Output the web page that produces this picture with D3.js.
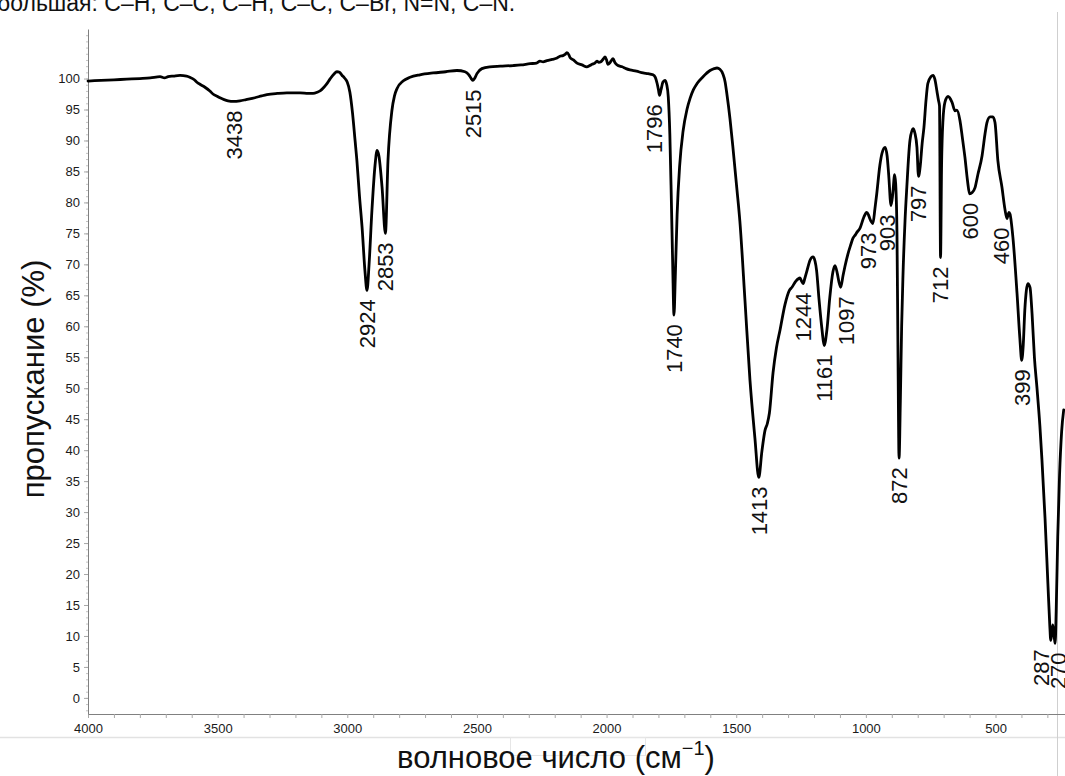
<!DOCTYPE html>
<html>
<head>
<meta charset="utf-8">
<script src="https://cdn.jsdelivr.net/npm/d3@7"></script>
<style>
  body { margin: 0; background: #fff; }
  svg { display: block; font-family: "Liberation Sans", Arial, sans-serif; }
</style>
</head>
<body>
<div id="chart"></div>
<script>
var wavenumber = [4000, 3950, 3900, 3850, 3800, 3760, 3722, 3705, 3691, 3670, 3645, 3620, 3607, 3590, 3580, 3565, 3549, 3530, 3518, 3500,
  3491, 3475, 3460, 3438, 3414, 3390, 3356, 3330, 3310, 3270, 3233, 3182, 3150, 3132, 3115, 3105, 3090, 3080, 3067, 3052,
  3040, 3030, 3020, 3013, 3005, 3000, 2990, 2980, 2970, 2963, 2953, 2943, 2932, 2924, 2916, 2905, 2893, 2885, 2878, 2866,
  2853, 2843, 2828, 2818, 2808, 2785, 2758, 2720, 2669, 2620, 2577, 2546, 2531, 2522, 2515, 2508, 2500, 2481, 2450, 2410,
  2361, 2330, 2295, 2270, 2257, 2245, 2230, 2210, 2191, 2180, 2168, 2160, 2153, 2145, 2141, 2128, 2114, 2095, 2076, 2065,
  2056, 2045, 2037, 2030, 2022, 2012, 2006, 2000, 1995, 1988, 1983, 1975, 1968, 1956, 1940, 1925, 1910, 1885, 1859, 1840,
  1821, 1812, 1805, 1800, 1796, 1790, 1783, 1775, 1768, 1762, 1756, 1750, 1745, 1740, 1735, 1728, 1718, 1705, 1690, 1678,
  1665, 1651, 1628, 1601, 1585, 1574, 1563, 1551, 1543, 1536, 1524, 1513, 1497, 1486, 1466, 1447, 1428, 1413, 1401, 1389,
  1380, 1372, 1358, 1345, 1331, 1312, 1295, 1285, 1270, 1254, 1248, 1242, 1235, 1227, 1215, 1204, 1196, 1190, 1181, 1169,
  1161, 1150, 1139, 1127, 1119, 1110, 1104, 1097, 1088, 1081, 1069, 1058, 1050, 1040, 1034, 1023, 1008, 997, 990, 985,
  973, 965, 958, 946, 938, 926, 918, 912, 903, 896, 889, 885, 880, 876, 872, 867, 862, 857, 849, 842,
  830, 818, 811, 803, 797, 790, 783, 776, 768, 761, 749, 741, 734, 726, 720, 716, 712, 708, 703, 695,
  683, 668, 656, 649, 637, 628, 618, 608, 600, 590, 579, 568, 552, 540, 533, 521, 510, 502, 491, 475,
  464, 456, 448, 444, 433, 417, 406, 399, 393, 387, 381, 375, 367, 359, 350, 340, 329, 321, 309, 298,
  291, 287, 283, 279, 274, 270, 266, 260, 253, 245, 237];

var transmittance = [99.6, 99.7, 99.8, 99.9, 100.0, 100.1, 100.3, 100.1, 100.3, 100.4, 100.5, 100.4, 100.2, 99.8, 99.4, 99.0, 98.6, 98.0, 97.5, 97.1,
  96.9, 96.6, 96.4, 96.3, 96.4, 96.6, 96.9, 97.2, 97.4, 97.6, 97.7, 97.7, 97.6, 97.6, 97.8, 98.0, 98.6, 99.1, 99.9, 100.7,
  101.1, 101.0, 100.5, 100.2, 99.8, 99.4, 97.8, 94.5, 90, 86.8, 81, 76, 69, 65.8, 70, 78.7, 86, 88.4, 87.5, 82.5,
  75, 86.8, 94.8, 97.2, 98.4, 99.6, 100.2, 100.6, 100.9, 101.1, 101.3, 101.1, 100.6, 100.0, 99.7, 100.1, 100.8, 101.6, 101.9, 102.0,
  102.1, 102.2, 102.4, 102.5, 102.8, 102.7, 102.9, 103.1, 103.3, 103.6, 103.7, 103.9, 104.2, 103.8, 103.4, 103.0, 102.5, 102.2, 101.9, 102.1,
  102.3, 102.5, 102.8, 102.6, 102.7, 103.2, 103.5, 103.0, 102.3, 102.5, 102.8, 103.2, 102.6, 102.1, 101.9, 101.6, 101.4, 101.2, 100.9, 100.8,
  100.6, 100.2, 99.2, 98.2, 97.3, 98.2, 99.4, 99.7, 99.0, 97, 91, 80, 70, 61.8, 68, 78, 86, 91.5, 95, 96.8,
  98.2, 99.2, 100.3, 101.3, 101.6, 101.7, 101.5, 100.7, 99.5, 97.5, 93.5, 89, 82, 77, 64, 51.3, 42, 35.6, 39.8, 43.2,
  44.3, 46, 52.5, 56.5, 59.4, 63.5, 65.8, 66.3, 67.3, 67.8, 67.3, 66.9, 67.8, 69, 70.7, 71.2, 70.5, 69, 64.5, 59.4,
  56.9, 59.5, 64.7, 68.8, 69.8, 68.5, 67.2, 66.3, 68.2, 69.6, 71.7, 73.2, 74.2, 74.8, 75.2, 75.8, 77.6, 78.4, 78.0, 77.4,
  76.6, 79, 81.4, 86, 87.9, 88.9, 87.5, 84.5, 79.5, 81.5, 84.5, 83, 75, 55, 38.7, 48, 60, 68, 77, 82.5,
  90, 91.9, 91.2, 88.9, 84.2, 86, 89.5, 92.1, 96.5, 99.2, 100.3, 100.5, 99.9, 98, 96.5, 95.6, 71.1, 86, 93, 96.2,
  97.1, 96.2, 94.8, 94.9, 93.2, 90.5, 87.3, 83.5, 81.4, 81.6, 82.4, 84.5, 87.5, 91.2, 92.9, 93.8, 93.8, 92.9, 86.8, 82.4,
  79, 77.4, 78.4, 78.1, 74.4, 65.3, 58, 54.5, 57, 62.6, 65.8, 66.9, 66.3, 62, 55, 50, 44, 38.5, 29, 18.5,
  12, 9.3, 10.5, 11.8, 10, 8.8, 14, 26, 36, 43, 46.5];

var peakWavenumbers = [3438, 2924, 2853, 2515, 1796, 1740, 1413, 1244, 1161, 1097, 973, 903, 872, 797, 712, 600, 460, 399, 287, 270];
var peakValues = [96.3, 65.8, 75, 99.7, 97.3, 61.8, 35.6, 66.9, 56.9, 66.3, 76.6, 79.5, 38.7, 84.2, 71.1, 81.4, 77.4, 54.5, 9.3, 8.8];

var xTickLabels = [4000, 3500, 3000, 2500, 2000, 1500, 1000, 500];
var yTickLabels = [0, 5, 10, 15, 20, 25, 30, 35, 40, 45, 50, 55, 60, 65, 70, 75, 80, 85, 90, 95, 100];

var headerText = "большая: С–Н, С–С, С–Н, С–С, С–Br, N=N, С–N.";
var xTitle = "волновое число (см";
var yTitle = "пропускание (%)";

var w = 1065, h = 776;

// small sideways nudges so neighbouring peak labels do not collide
var labelNudge = { 1796: -5, 1097: 5, 973: -5, 903: -4, 460: -5, 287: -10, 270: 3 };

var x = d3.scaleLinear().domain([4000, 232]).range([88, 1065]);
var y = d3.scaleLinear().domain([-2.6, 108]).range([714, 29]);

var svg = d3.select("#chart")
  .append("svg")
  .attr("width", w)
  .attr("height", h);

// page artefacts around the figure
svg.append("line")
  .attr("x1", 0).attr("x2", w).attr("y1", 737.5).attr("y2", 737.5)
  .attr("stroke", "#e2e2e2").attr("stroke-width", 1.5);
svg.append("rect")
  .attr("x", 510.5).attr("y", 737.5).attr("width", 135).attr("height", 18)
  .attr("fill", "none").attr("stroke", "#e6e6e6");
svg.append("line")
  .attr("x1", 1057.5).attr("x2", 1057.5).attr("y1", 12).attr("y2", h)
  .attr("stroke", "#cfcfcf");

svg.append("text")
  .attr("x", -3).attr("y", 11)
  .attr("font-size", 23)
  .attr("fill", "#111")
  .text(headerText);

// x axis: minor ticks every 100, labels every 500
var xAxis = d3.axisBottom(x)
  .tickValues(d3.range(4000, 232, -100))
  .tickFormat(function(d){ return xTickLabels.indexOf(d) >= 0 ? d : ""; })
  .tickSize(4)
  .tickSizeOuter(0)
  .tickPadding(6);

var gx = svg.append("g")
  .attr("transform", "translate(0,714)")
  .call(xAxis);
gx.select(".domain").attr("stroke", "#808080");
gx.selectAll(".tick line").attr("stroke", "#a8a8a8");
gx.selectAll(".tick text").attr("font-size", 13).attr("fill", "#1a1a1a").attr("font-family", null);

// y axis: minor ticks every unit, labelled every 5
var yMinor = d3.axisLeft(y)
  .tickValues(d3.range(-2, 108, 1))
  .tickFormat("")
  .tickSize(2)
  .tickSizeOuter(0);
var gyMinor = svg.append("g")
  .attr("transform", "translate(88,0)")
  .call(yMinor);
gyMinor.select(".domain").remove();
gyMinor.selectAll(".tick line").attr("stroke", "#c4c4c4");

var yAxis = d3.axisLeft(y)
  .tickValues(yTickLabels)
  .tickSize(4)
  .tickSizeOuter(0)
  .tickPadding(4);
var gy = svg.append("g")
  .attr("transform", "translate(88,0)")
  .call(yAxis);
gy.select(".domain").attr("stroke", "#808080");
gy.selectAll(".tick line").attr("stroke", "#a8a8a8");
gy.selectAll(".tick text").attr("font-size", 13).attr("fill", "#1a1a1a").attr("font-family", null);

// axis titles
var xt = svg.append("text")
  .attr("x", 556).attr("y", 768)
  .attr("text-anchor", "middle")
  .attr("font-size", 31)
  .attr("fill", "#111")
  .text(xTitle);
xt.append("tspan")
  .attr("font-size", 20)
  .attr("dy", -13)
  .text("−1");
xt.append("tspan")
  .attr("dy", 13)
  .text(")");

svg.append("text")
  .attr("transform", "translate(44,379) rotate(-90)")
  .attr("text-anchor", "middle")
  .attr("font-size", 31)
  .attr("fill", "#111")
  .text(yTitle);

// spectrum
var spectrum = wavenumber.map(function(d, i){ return { wn: d, t: transmittance[i] }; });

var line = d3.line()
  .x(function(d){ return x(d.wn); })
  .y(function(d){ return y(d.t); })
  .curve(d3.curveMonotoneX);

svg.append("path")
  .datum(spectrum)
  .attr("d", line)
  .attr("fill", "none")
  .attr("stroke", "#000")
  .attr("stroke-width", 2.8)
  .attr("stroke-linejoin", "round")
  .attr("stroke-linecap", "round");

// peak labels, rotated, just under each minimum
var peaks = peakWavenumbers.map(function(d, i){ return { wn: d, t: peakValues[i] }; });

svg.selectAll("text.peak")
  .data(peaks)
  .enter()
  .append("text")
  .attr("class", "peak")
  .attr("transform", function(d){
    var px = x(d.wn) + (labelNudge[d.wn] || 0);
    return "translate(" + px + "," + (y(d.t) + 9) + ") rotate(-90)";
  })
  .attr("dy", "0.36em")
  .attr("text-anchor", "end")
  .attr("font-size", 22)
  .attr("fill", "#111")
  .text(function(d){ return d.wn; });
</script>
</body>
</html>
